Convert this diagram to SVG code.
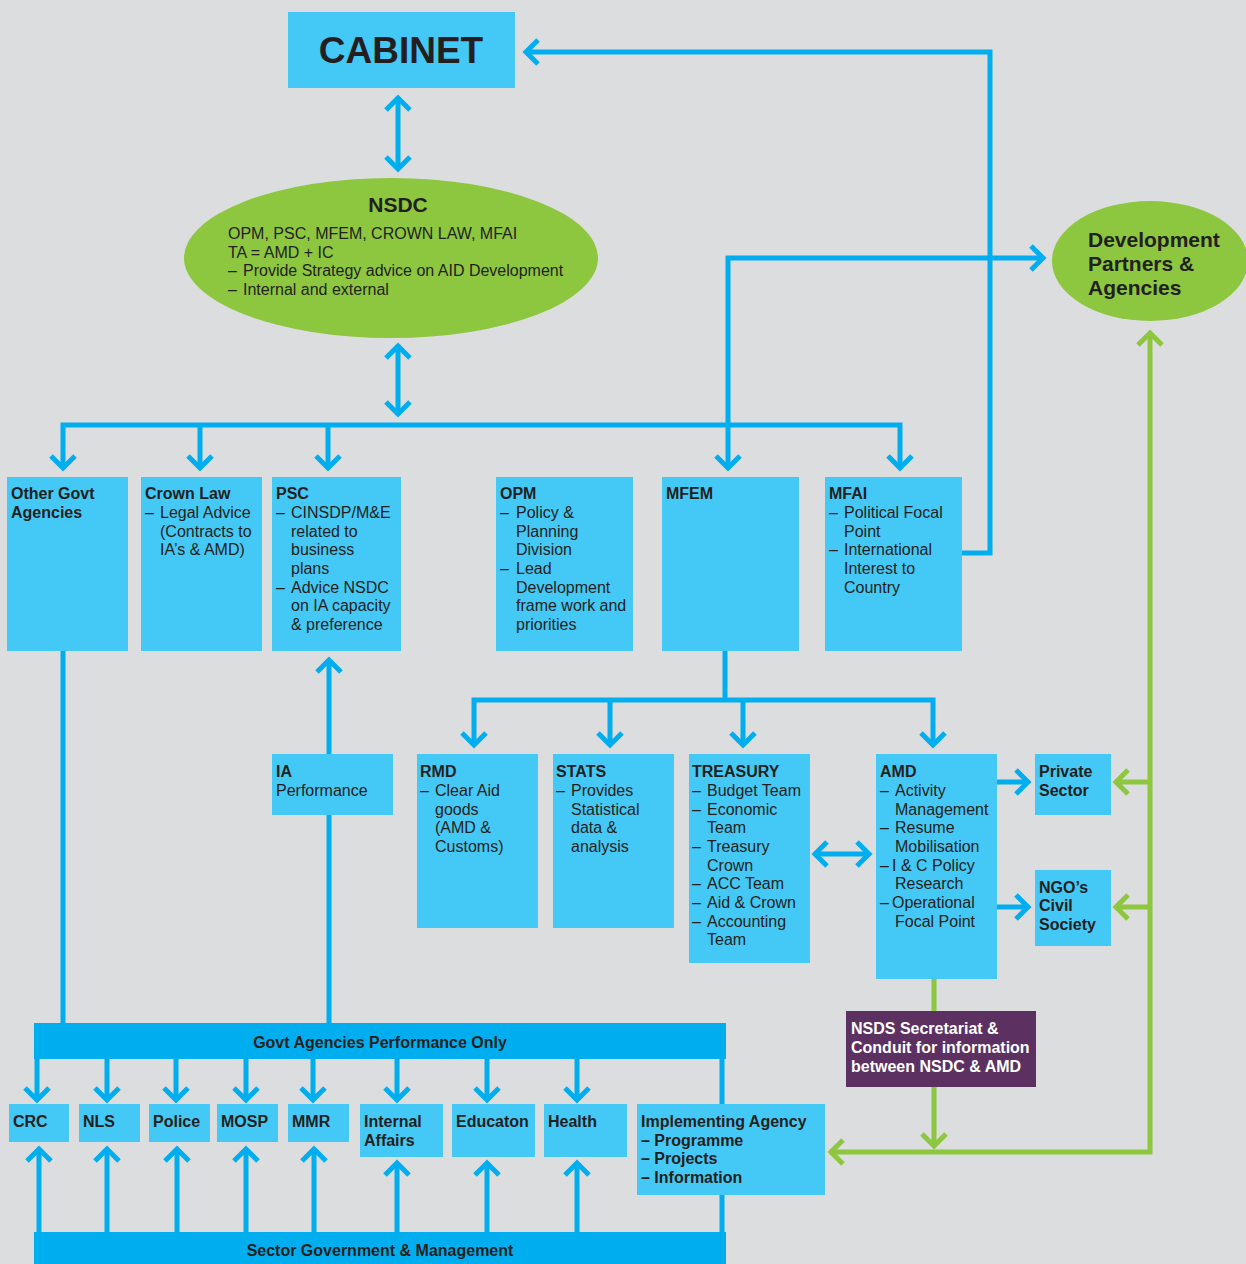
<svg xmlns="http://www.w3.org/2000/svg" width="1246" height="1264" viewBox="0 0 1246 1264">
<style>
text{font-family:"Liberation Sans",Arial,sans-serif;fill:#231f20;font-size:16px}
.b{font-weight:bold}
.w{fill:#ffffff}
.box{fill:#44c8f5}
.band{fill:#00aeef}
.bl{stroke:#00aeef;stroke-width:5;fill:none}
.gr{stroke:#8dc63f;stroke-width:5;fill:none}
</style>
<defs>
<marker id="ab" viewBox="-16 -16 22 32" refX="0" refY="0" markerWidth="22" markerHeight="32" markerUnits="userSpaceOnUse" orient="auto-start-reverse" overflow="visible">
<path d="M-12,-12 L0,0 L-12,12" fill="none" stroke="#00aeef" stroke-width="5"/>
</marker>
<marker id="ag" viewBox="-16 -16 22 32" refX="0" refY="0" markerWidth="22" markerHeight="32" markerUnits="userSpaceOnUse" orient="auto-start-reverse" overflow="visible">
<path d="M-12,-12 L0,0 L-12,12" fill="none" stroke="#8dc63f" stroke-width="5"/>
</marker>
</defs>
<rect x="0" y="0" width="1246" height="1264" fill="#dcdddf"/>

<g id="connectors">
<path class="bl" d="M398,98 V169" marker-start="url(#ab)" marker-end="url(#ab)"/>
<path class="bl" d="M398,346 V414" marker-start="url(#ab)" marker-end="url(#ab)"/>
<path class="bl" d="M63,468 V425 H900 V468" marker-start="url(#ab)" marker-end="url(#ab)"/>
<path class="bl" d="M200,425 V468" marker-end="url(#ab)"/>
<path class="bl" d="M328,425 V468" marker-end="url(#ab)"/>
<path class="bl" d="M728,468 V258 H1043" marker-start="url(#ab)" marker-end="url(#ab)"/>
<path class="bl" d="M962,553 H990 V52 H526" marker-end="url(#ab)"/>
<path class="bl" d="M63,651 V1023"/>
<path class="bl" d="M329,1023 V660" marker-end="url(#ab)"/>
<path class="bl" d="M725,651 V700"/>
<path class="bl" d="M474,745 V700 H933 V745" marker-start="url(#ab)" marker-end="url(#ab)"/>
<path class="bl" d="M610,700 V745" marker-end="url(#ab)"/>
<path class="bl" d="M743,700 V745" marker-end="url(#ab)"/>
<path class="bl" d="M815,854 H869" marker-start="url(#ab)" marker-end="url(#ab)"/>
<path class="bl" d="M997,782 H1028" marker-end="url(#ab)"/>
<path class="bl" d="M997,907 H1028" marker-end="url(#ab)"/>
<path class="bl" d="M37,1059 V1100" marker-end="url(#ab)"/>
<path class="bl" d="M107,1059 V1100" marker-end="url(#ab)"/>
<path class="bl" d="M176,1059 V1100" marker-end="url(#ab)"/>
<path class="bl" d="M246,1059 V1100" marker-end="url(#ab)"/>
<path class="bl" d="M313,1059 V1100" marker-end="url(#ab)"/>
<path class="bl" d="M397,1059 V1100" marker-end="url(#ab)"/>
<path class="bl" d="M487,1059 V1100" marker-end="url(#ab)"/>
<path class="bl" d="M577,1059 V1100" marker-end="url(#ab)"/>
<path class="bl" d="M39,1232 V1149" marker-end="url(#ab)"/>
<path class="bl" d="M107,1232 V1149" marker-end="url(#ab)"/>
<path class="bl" d="M177,1232 V1149" marker-end="url(#ab)"/>
<path class="bl" d="M246,1232 V1149" marker-end="url(#ab)"/>
<path class="bl" d="M314,1232 V1149" marker-end="url(#ab)"/>
<path class="bl" d="M397,1232 V1163" marker-end="url(#ab)"/>
<path class="bl" d="M487,1232 V1163" marker-end="url(#ab)"/>
<path class="bl" d="M577,1232 V1163" marker-end="url(#ab)"/>
<path class="bl" d="M722,1057 V1104"/>
<path class="bl" d="M722,1195 V1234"/>
<path class="gr" d="M1150,333 V1152 H831" marker-start="url(#ag)" marker-end="url(#ag)"/>
<path class="gr" d="M1150,782 H1116" marker-end="url(#ag)"/>
<path class="gr" d="M1150,907 H1116" marker-end="url(#ag)"/>
<path class="gr" d="M934,979 V1011"/>
<path class="gr" d="M934,1087 V1146" marker-end="url(#ag)"/>
</g>

<g id="cabinet">
<rect class="box" x="288" y="12" width="227" height="76"/>
<text class="b" x="401" y="63" text-anchor="middle" style="font-size:37px">CABINET</text>
</g>

<g id="nsdc">
<ellipse cx="391" cy="258" rx="207" ry="80" fill="#8dc63f"/>
<text class="b" x="398" y="212" text-anchor="middle" style="font-size:21px">NSDC</text>
<text x="228" y="239">OPM, PSC, MFEM, CROWN LAW, MFAI</text>
<text x="228" y="258">TA = AMD + IC</text>
<text x="228" y="276">–</text><text x="243" y="276">Provide Strategy advice on AID Development</text>
<text x="228" y="295">–</text><text x="243" y="295">Internal and external</text>
</g>

<g id="devpartners">
<ellipse cx="1150" cy="261" rx="98" ry="60" fill="#8dc63f"/>
<text class="b" x="1088" y="247" style="font-size:21px">Development</text>
<text class="b" x="1088" y="271" style="font-size:21px">Partners &amp;</text>
<text class="b" x="1088" y="295" style="font-size:21px">Agencies</text>
</g>

<g id="othergovt">
<rect class="box" x="7" y="477" width="121" height="174"/>
<text class="b" x="11" y="499">Other Govt</text>
<text class="b" x="11" y="518">Agencies</text>
</g>

<g id="crownlaw">
<rect class="box" x="141" y="477" width="121" height="174"/>
<text class="b" x="145" y="499">Crown Law</text>
<text x="145" y="518">–</text><text x="160" y="518">Legal Advice</text>
<text x="160" y="537">(Contracts to</text>
<text x="160" y="555">IA’s &amp; AMD)</text>
</g>

<g id="psc">
<rect class="box" x="272" y="477" width="129" height="174"/>
<text class="b" x="276" y="499">PSC</text>
<text x="276" y="518">–</text><text x="291" y="518">CINSDP/M&amp;E</text>
<text x="291" y="537">related to</text>
<text x="291" y="555">business</text>
<text x="291" y="574">plans</text>
<text x="276" y="593">–</text><text x="291" y="593">Advice NSDC</text>
<text x="291" y="611">on IA capacity</text>
<text x="291" y="630">&amp; preference</text>
</g>

<g id="opm">
<rect class="box" x="496" y="477" width="137" height="174"/>
<text class="b" x="500" y="499">OPM</text>
<text x="500" y="518">–</text><text x="516" y="518">Policy &amp;</text>
<text x="516" y="537">Planning</text>
<text x="516" y="555">Division</text>
<text x="500" y="574">–</text><text x="516" y="574">Lead</text>
<text x="516" y="593">Development</text>
<text x="516" y="611">frame work and</text>
<text x="516" y="630">priorities</text>
</g>

<g id="mfem">
<rect class="box" x="662" y="477" width="137" height="174"/>
<text class="b" x="666" y="499">MFEM</text>
</g>

<g id="mfai">
<rect class="box" x="825" y="477" width="137" height="174"/>
<text class="b" x="829" y="499">MFAI</text>
<text x="829" y="518">–</text><text x="844" y="518">Political Focal</text>
<text x="844" y="537">Point</text>
<text x="829" y="555">–</text><text x="844" y="555">International</text>
<text x="844" y="574">Interest to</text>
<text x="844" y="593">Country</text>
</g>

<g id="iaperf">
<rect class="box" x="272" y="754" width="121" height="61"/>
<text class="b" x="276" y="777">IA</text>
<text x="276" y="796">Performance</text>
</g>

<g id="rmd">
<rect class="box" x="417" y="754" width="121" height="174"/>
<text class="b" x="420" y="777">RMD</text>
<text x="420" y="796">–</text><text x="435" y="796">Clear Aid</text>
<text x="435" y="815">goods</text>
<text x="435" y="833">(AMD &amp;</text>
<text x="435" y="852">Customs)</text>
</g>

<g id="stats">
<rect class="box" x="553" y="754" width="121" height="174"/>
<text class="b" x="556" y="777">STATS</text>
<text x="556" y="796">–</text><text x="571" y="796">Provides</text>
<text x="571" y="815">Statistical</text>
<text x="571" y="833">data &amp;</text>
<text x="571" y="852">analysis</text>
</g>

<g id="treasury">
<rect class="box" x="689" y="754" width="121" height="209"/>
<text class="b" x="692" y="777">TREASURY</text>
<text x="692" y="796">–</text><text x="707" y="796">Budget Team</text>
<text x="692" y="815">–</text><text x="707" y="815">Economic</text>
<text x="707" y="833">Team</text>
<text x="692" y="852">–</text><text x="707" y="852">Treasury</text>
<text x="707" y="871">Crown</text>
<text x="692" y="889">–</text><text x="707" y="889">ACC Team</text>
<text x="692" y="908">–</text><text x="707" y="908">Aid &amp; Crown</text>
<text x="692" y="927">–</text><text x="707" y="927">Accounting</text>
<text x="707" y="945">Team</text>
</g>

<g id="amd">
<rect class="box" x="876" y="754" width="121" height="225"/>
<text class="b" x="880" y="777">AMD</text>
<text x="880" y="796">–</text><text x="895" y="796">Activity</text>
<text x="895" y="815">Management</text>
<text x="880" y="833">–</text><text x="895" y="833">Resume</text>
<text x="895" y="852">Mobilisation</text>
<text x="880" y="871">–</text><text x="892" y="871">I &amp; C Policy</text>
<text x="895" y="889">Research</text>
<text x="880" y="908">–</text><text x="892" y="908">Operational</text>
<text x="895" y="927">Focal Point</text>
</g>

<g id="private">
<rect class="box" x="1035" y="754" width="76" height="61"/>
<text class="b" x="1039" y="777">Private</text>
<text class="b" x="1039" y="796">Sector</text>
</g>

<g id="ngo">
<rect class="box" x="1035" y="870" width="76" height="76"/>
<text class="b" x="1039" y="893">NGO’s</text>
<text class="b" x="1039" y="911">Civil</text>
<text class="b" x="1039" y="930">Society</text>
</g>

<g id="nsds">
<rect x="846" y="1011" width="190" height="76" fill="#5c3162"/>
<text class="b w" x="851" y="1034">NSDS Secretariat &amp;</text>
<text class="b w" x="851" y="1053">Conduit for information</text>
<text class="b w" x="851" y="1072">between NSDC &amp; AMD</text>
</g>

<g id="govtband">
<rect class="band" x="34" y="1023" width="692" height="36"/>
<text class="b" x="380" y="1048" text-anchor="middle">Govt Agencies Performance Only</text>
</g>

<g id="crc"><rect class="box" x="9" y="1104" width="60" height="38"/><text class="b" x="13" y="1127">CRC</text></g>
<g id="nls"><rect class="box" x="79" y="1104" width="61" height="38"/><text class="b" x="83" y="1127">NLS</text></g>
<g id="police"><rect class="box" x="149" y="1104" width="61" height="38"/><text class="b" x="153" y="1127">Police</text></g>
<g id="mosp"><rect class="box" x="217" y="1104" width="61" height="38"/><text class="b" x="221" y="1127">MOSP</text></g>
<g id="mmr"><rect class="box" x="288" y="1104" width="61" height="38"/><text class="b" x="292" y="1127">MMR</text></g>
<g id="internal"><rect class="box" x="360" y="1104" width="83" height="53"/><text class="b" x="364" y="1127">Internal</text><text class="b" x="364" y="1146">Affairs</text></g>
<g id="education"><rect class="box" x="452" y="1104" width="83" height="53"/><text class="b" x="456" y="1127">Educaton</text></g>
<g id="health"><rect class="box" x="544" y="1104" width="83" height="53"/><text class="b" x="548" y="1127">Health</text></g>

<g id="implementing">
<rect class="box" x="637" y="1104" width="188" height="91"/>
<text class="b" x="641" y="1127">Implementing Agency</text>
<text class="b" x="641" y="1146">– Programme</text>
<text class="b" x="641" y="1164">– Projects</text>
<text class="b" x="641" y="1183">– Information</text>
</g>

<g id="sectorband">
<rect class="band" x="34" y="1232" width="692" height="40"/>
<text class="b" x="380" y="1256" text-anchor="middle">Sector Government &amp; Management</text>
</g>
</svg>
